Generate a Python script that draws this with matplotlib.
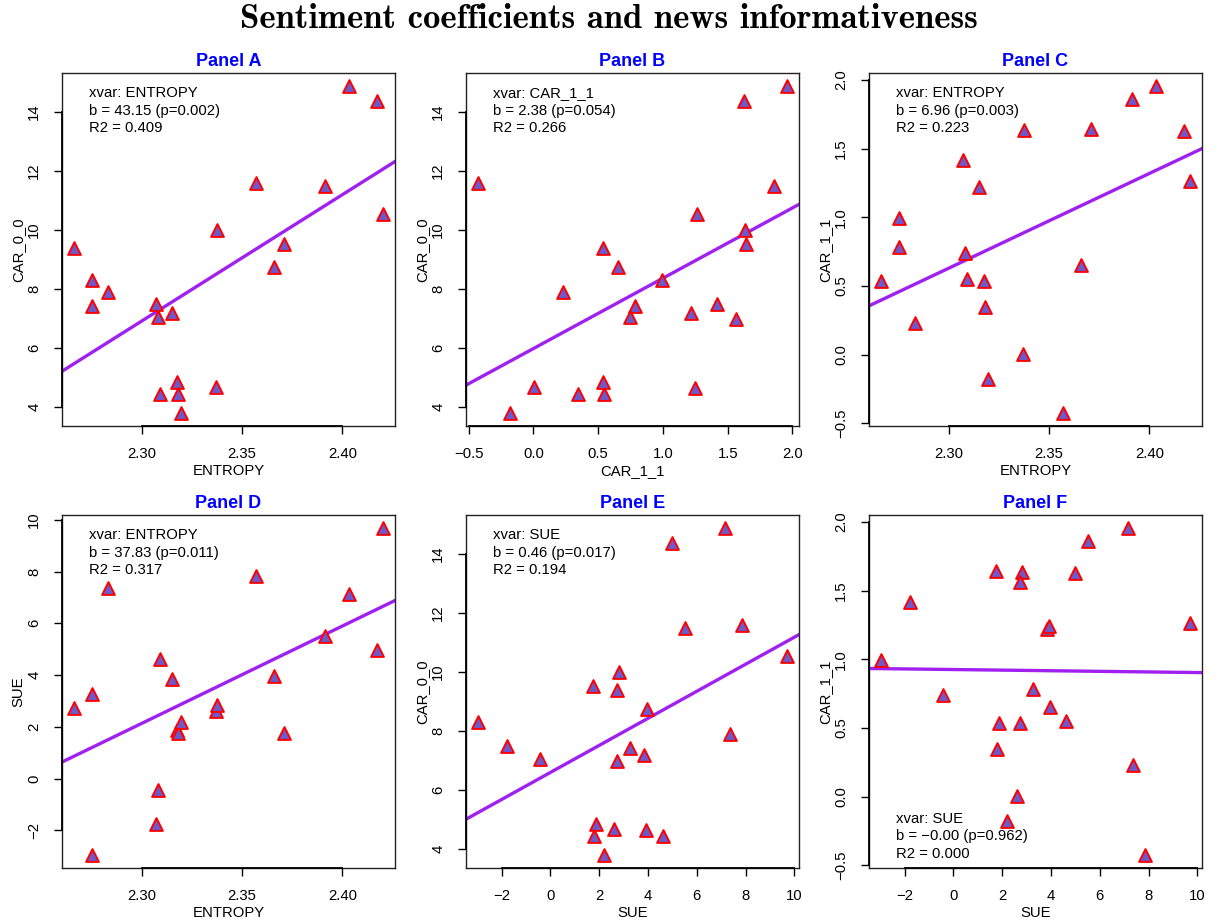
import numpy as np
import matplotlib
matplotlib.use("Agg")
import matplotlib.pyplot as plt

# ---- data (one record per firm; two records have no ENTROPY) ----
ENTROPY = [2.2664, 2.2754, 2.2754, 2.2830, 2.3070, 2.3081, 2.3093, 2.3153, 2.3178, 2.3180,
           2.3198, 2.3369, 2.3377, 2.3568, 2.3658, 2.3709, 2.3912, 2.4035, 2.4173, 2.4201,
           np.nan, np.nan]
CAR_0_0 = [9.38, 8.30, 7.42, 7.92, 7.51, 7.05, 4.44, 7.20, 4.85, 4.45,
           3.81, 4.70, 9.99, 11.60, 8.76, 9.54, 11.49, 14.88, 14.37, 10.55,
           6.99, 4.66]
CAR_1_1 = [0.535, 0.994, 0.785, 0.230, 1.414, 0.742, 0.548, 1.220, 0.535, 0.343,
           -0.178, 0.004, 1.632, -0.425, 0.650, 1.642, 1.860, 1.955, 1.628, 1.262,
           1.564, 1.244]
SUE = [2.73, -2.95, 3.28, 7.36, -1.77, -0.43, 4.62, 3.83, 1.87, 1.77,
       2.20, 2.62, 2.83, 7.84, 3.97, 1.75, 5.50, 7.15, 4.98, 9.68,
       2.75, 3.90]

data = {"ENTROPY": ENTROPY, "CAR_0_0": CAR_0_0, "CAR_1_1": CAR_1_1, "SUE": SUE}

panel_titles = ["Panel A", "Panel B", "Panel C", "Panel D", "Panel E", "Panel F"]
panel_x = ["ENTROPY", "CAR_1_1", "ENTROPY", "ENTROPY", "SUE", "SUE"]
panel_y = ["CAR_0_0", "CAR_0_0", "CAR_1_1", "SUE", "CAR_0_0", "CAR_1_1"]
panel_stats = [
    ["xvar: ENTROPY", "b = 43.15 (p=0.002)", "R2 = 0.409"],
    ["xvar: CAR_1_1", "b = 2.38 (p=0.054)", "R2 = 0.266"],
    ["xvar: ENTROPY", "b = 6.96 (p=0.003)", "R2 = 0.223"],
    ["xvar: ENTROPY", "b = 37.83 (p=0.011)", "R2 = 0.317"],
    ["xvar: SUE", "b = 0.46 (p=0.017)", "R2 = 0.194"],
    ["xvar: SUE", "b = \u22120.00 (p=0.962)", "R2 = 0.000"],
]
stats_loc = ["top", "top", "top", "top", "top", "bottom"]

ticks = {
    "ENTROPY": [2.30, 2.35, 2.40],
    "CAR_1_1": [-0.5, 0.0, 0.5, 1.0, 1.5, 2.0],
    "CAR_0_0": [4, 6, 8, 10, 12, 14],
    "SUE": [-2, 0, 2, 4, 6, 8, 10],
}
tick_fmt = {"ENTROPY": "{:.2f}", "CAR_1_1": "{:.1f}", "CAR_0_0": "{:d}", "SUE": "{:d}"}

FONT = "Liberation Sans"
W, H = 1217, 922
fig = plt.figure(figsize=(W / 100, H / 100), dpi=100)

lefts = [62, 466, 869]
tops = [73, 515]
aw, ah = 333, 353


def fmt(v, key):
    s = tick_fmt[key].format(int(v) if tick_fmt[key] == "{:d}" else v)
    return s.replace("-", "\u2212")


for i in range(6):
    r, c = divmod(i, 3)
    ax = fig.add_axes([lefts[c] / W, 1 - (tops[r] + ah) / H, aw / W, ah / H])
    xk, yk = panel_x[i], panel_y[i]
    x = np.array(data[xk], dtype=float)
    y = np.array(data[yk], dtype=float)
    ok = ~(np.isnan(x) | np.isnan(y))
    x, y = x[ok], y[ok]

    # R-style 4% padding
    xr = x.max() - x.min()
    yr = y.max() - y.min()
    ax.set_xlim(x.min() - 0.04 * xr, x.max() + 0.04 * xr)
    ax.set_ylim(y.min() - 0.04 * yr, y.max() + 0.04 * yr)

    ax.scatter(x, y, marker="^", s=85, facecolor="#6A5ACD", edgecolor="#FF0000",
               linewidth=1.4, zorder=3)
    b, a = np.polyfit(x, y, 1)
    ax.axline((0.0, a), slope=b, color="#A020F0", lw=2.4, zorder=2)

    ax.set_xticks(ticks[xk])
    ax.set_xticklabels([fmt(v, xk) for v in ticks[xk]], fontsize=10.7, family=FONT)
    ax.set_yticks(ticks[yk])
    ax.set_yticklabels([fmt(v, yk) for v in ticks[yk]], fontsize=10.7, family=FONT,
                       rotation=90, va="center")
    ax.tick_params(direction="out", length=6, width=1, pad=9, colors="black")
    for sp in ax.spines.values():
        sp.set_linewidth(1.0)
        sp.set_color("#222222")

    # R draws the axis line only between first and last tick
    tx = ax.get_xaxis_transform()
    ty = ax.get_yaxis_transform()
    ax.plot([ticks[xk][0], ticks[xk][-1]], [0, 0], transform=tx, color="black",
            lw=1.3, clip_on=False, zorder=4)
    ax.plot([0, 0], [ticks[yk][0], ticks[yk][-1]], transform=ty, color="black",
            lw=1.3, clip_on=False, zorder=4)

    ax.set_xlabel(xk, fontsize=10.7, family=FONT)
    ax.set_ylabel(yk, fontsize=10.7, family=FONT)
    ax.xaxis.set_label_coords(0.5, -0.108)
    ax.yaxis.set_label_coords(-0.109, 0.5)
    ax.set_title(panel_titles[i], fontsize=13, fontweight="bold", color="#0000FF",
                 family=FONT, pad=5)

    txt = "\n".join(panel_stats[i])
    if stats_loc[i] == "top":
        ax.text(0.08, 0.962, txt, transform=ax.transAxes, ha="left", va="top",
                fontsize=10.7, family=FONT, linespacing=1.32)
    else:
        ax.text(0.08, 0.02, txt, transform=ax.transAxes, ha="left", va="bottom",
                fontsize=10.7, family=FONT, linespacing=1.32)

fig.text(0.5, 1 - 19 / H, "Sentiment coefficients and news informativeness",
         ha="center", va="center", fontsize=25, family=["cmb10", "DejaVu Serif"],
         fontweight="bold")

fig.savefig("out.png", dpi=100)
